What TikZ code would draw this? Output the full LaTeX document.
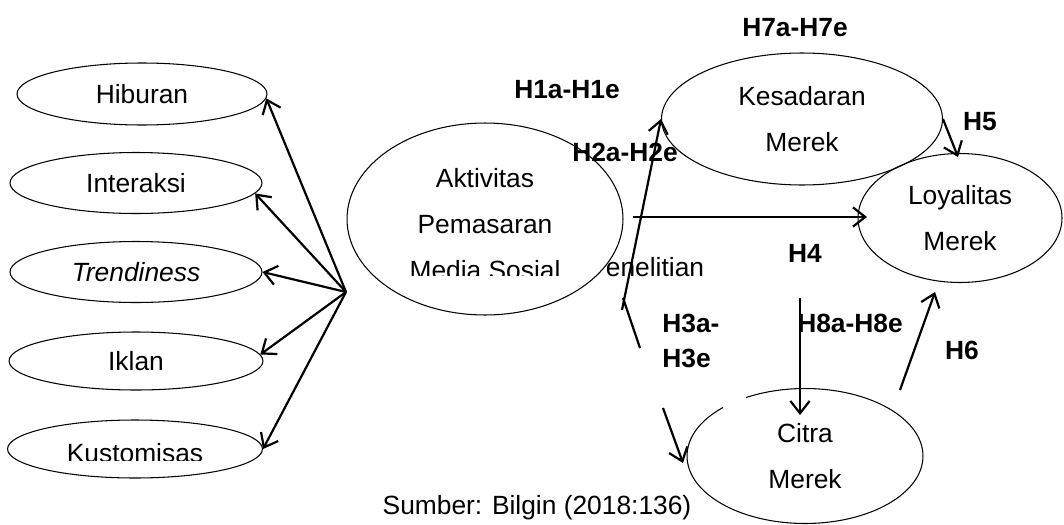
\documentclass[tikz,border=0pt]{standalone}
\usepackage{fontspec}
\setmainfont{Liberation Sans}
\usetikzlibrary{shapes.geometric, arrows.meta}

\begin{document}
\begin{tikzpicture}[x=0.02cm, y=-0.02cm,
	oval/.style={ellipse, draw, line width=0.6pt, inner sep=0pt, align=center, font=\fontsize{15}{26}\selectfont},
	txt/.style={inner sep=0pt, align=center, font=\fontsize{15}{26}\selectfont},
	lbl/.style={inner sep=0pt, align=left, font=\bfseries\fontsize{15}{20}\selectfont},
	arr/.style={line width=1.25pt, -{Straight Barb[length=7pt, width=11pt]}}]
		\useasboundingbox (0,0) rectangle (1064,524);

		\node[oval, minimum width=5cm, minimum height=1.24cm] (hib) at (142,94) {Hiburan};
		\node[oval, minimum width=5.04cm, minimum height=1.22cm] (int) at (136,183) {Interaksi};
		\node[oval, minimum width=5.04cm, minimum height=1.22cm] (tre) at (136,272) {\itshape Trendiness};
		\node[oval, minimum width=5.08cm, minimum height=1.16cm] (ikl) at (136,361) {Iklan};
		\node[oval, minimum width=5.1cm, minimum height=1.16cm] (kus) at (135,449) {};
		\node[oval, minimum width=5.52cm, minimum height=3.84cm] (ams) at (485,219) {};
		\node[oval, minimum width=5.62cm, minimum height=2.64cm] (kes) at (802,119) {Kesadaran\\Merek};
		\node[oval, minimum width=4.08cm, minimum height=2.58cm] (loy) at (960,218) {Loyalitas\\Merek};
		\node[oval, minimum width=4.72cm, minimum height=2.7cm] (cit) at (805,456) {Citra\\Merek};
		\fill[white] (723,390) rectangle (746,415);

		\begin{scope}
			\clip (0,400) rectangle (300,460);
			\node[txt] (kustext) at (135,453) {Kustomisas};
		\end{scope}
		\begin{scope}
			\clip (340,140) rectangle (630,275);
			\node[txt] (amstext) at (485,224) {Aktivitas\\Pemasaran\\Media Sosial};
		\end{scope}
		\node[txt] (pen) at (655,267) {enelitian};

		\coordinate (hub) at (346,292);
		\draw[arr] (hub) -- (hib.-2);
		\draw[arr] (hub) -- (int.-5);
		\draw[arr] (hub) -- (tre.east);
		\draw[arr] (hub) -- (ikl.3);
		\draw[arr] (hub) -- (kus.east);

		\coordinate (h1start) at (622,310);
		\coordinate (kinka) at (623,298);
		\coordinate (kinkb) at (640,348);
		\coordinate (h2start) at (633,217);
		\coordinate (h2end) at (867,217);
		\coordinate (h3start) at (663,408);
		\coordinate (h3end) at (683,463);
		\coordinate (h8start) at (800,298);
		\coordinate (h8end) at (800,415);
		\coordinate (h6start) at (900,390);
		\coordinate (h6end) at (935,292);
		\coordinate (h5end) at (958,157);

		\draw[arr] (h1start) -- (kes.west);
		\draw[line width=1.25pt] (kinka) -- (kinkb);
		\draw[arr] (h2start) -- (h2end);
		\draw[arr] (h3start) -- (h3end);
		\draw[arr] (h8start) -- (h8end);
		\draw[arr] (h6start) -- (h6end);
		\draw[arr] (kes.east) -- (h5end);

		\node[lbl] (l1) at (567,90) {H1a-H1e};
		\node[lbl] (l2) at (625,152) {H2a-H2e};
		\node[lbl] (l7) at (795,28) {H7a-H7e};
		\node[lbl] (l5) at (980,122) {H5};
		\node[lbl] (l4) at (805,253) {H4};
		\node[lbl, anchor=west] (l3) at (662,341) {H3a-\\H3e};
		\node[lbl] (l8) at (850,323) {H8a-H8e};
		\node[lbl] (l6) at (962,350) {H6};
		\node[txt] (src) at (537,508) {Sumber: Bilgin (2018:136)};
	\end{tikzpicture}
\end{document}
